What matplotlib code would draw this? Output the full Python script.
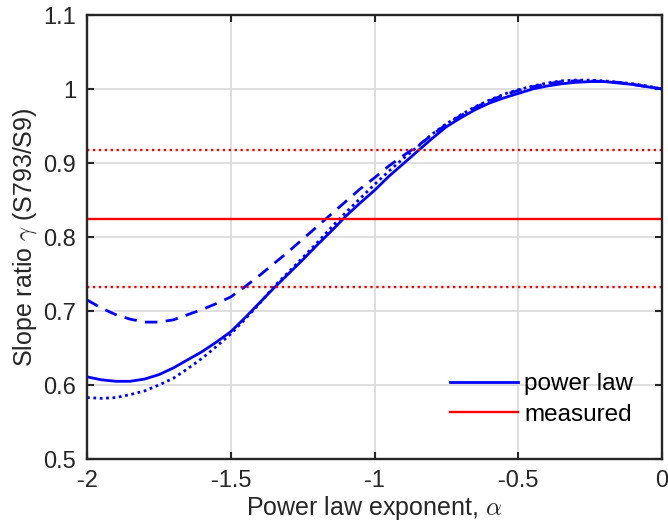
import numpy as np
import matplotlib
matplotlib.use('Agg')
import matplotlib.pyplot as plt
from matplotlib.ticker import FuncFormatter

plt.rcParams['font.family'] = ['Liberation Sans', 'DejaVu Sans']
plt.rcParams['mathtext.fontset'] = 'cm'

# power law exponent
alpha = [-2.00, -1.95, -1.90, -1.85, -1.80, -1.75, -1.70, -1.65, -1.60, -1.55,
         -1.50, -1.45, -1.40, -1.35, -1.30, -1.25, -1.20, -1.15, -1.10, -1.05,
         -1.00, -0.95, -0.90, -0.85, -0.80, -0.75, -0.70, -0.65, -0.60, -0.55,
         -0.50, -0.45, -0.40, -0.35, -0.30, -0.25, -0.20, -0.15, -0.10, -0.05, 0.00]
# slope ratio curves
gamma_solid = [0.611, 0.607, 0.605, 0.605, 0.608, 0.614, 0.623, 0.634, 0.645, 0.658,
               0.672, 0.691, 0.711, 0.731, 0.750, 0.769, 0.789, 0.808, 0.828, 0.846,
               0.863, 0.882, 0.899, 0.916, 0.933, 0.949, 0.961, 0.972, 0.981, 0.988,
               0.994, 1.000, 1.004, 1.007, 1.009, 1.010, 1.010, 1.008, 1.006, 1.003, 1.000]
gamma_dashed = [0.715, 0.704, 0.695, 0.689, 0.685, 0.685, 0.688, 0.695, 0.702, 0.710,
                0.719, 0.733, 0.748, 0.764, 0.780, 0.797, 0.814, 0.831, 0.848, 0.865,
                0.880, 0.896, 0.910, 0.923, 0.938, 0.952, 0.964, 0.975, 0.984, 0.992,
                0.998, 1.003, 1.007, 1.010, 1.011, 1.011, 1.010, 1.009, 1.006, 1.003, 1.000]
gamma_dotted = [0.583, 0.582, 0.583, 0.587, 0.592, 0.600, 0.609, 0.622, 0.636, 0.652,
                0.669, 0.689, 0.710, 0.733, 0.752, 0.772, 0.792, 0.813, 0.833, 0.852,
                0.871, 0.889, 0.906, 0.922, 0.939, 0.953, 0.965, 0.976, 0.985, 0.993,
                0.999, 1.004, 1.008, 1.011, 1.012, 1.012, 1.011, 1.009, 1.007, 1.004, 1.000]
measured = 0.825
measured_lo, measured_hi = 0.733, 0.917

fig = plt.figure(figsize=(6.68, 5.30), dpi=100)
ax = fig.add_axes([87/668, 1 - 459/530, 575/668, 444/530])

blue = '#0000ff'
red = '#ff0000'
ax.plot(alpha, gamma_solid, c=blue, lw=2.0, label='power law')
ax.plot(alpha, gamma_dashed, c=blue, lw=2.0, ls=(0, (4.5, 3)))
ax.plot(alpha, gamma_dotted, c=blue, lw=2.0, ls=(0, (1, 1.3)))
ax.axhline(measured, c=red, lw=1.7, label='measured')
ax.axhline(measured_lo, c=red, lw=1.7, ls=(0, (1, 1.5)))
ax.axhline(measured_hi, c=red, lw=1.7, ls=(0, (1, 1.5)))

ax.set_xlim(-2, 0)
ax.set_ylim(0.5, 1.1)
ax.set_xticks([-2, -1.5, -1, -0.5, 0])
ax.set_yticks([0.5, 0.6, 0.7, 0.8, 0.9, 1.0, 1.1])
fmt = FuncFormatter(lambda v, p: f'{v:g}')
ax.xaxis.set_major_formatter(fmt)
ax.yaxis.set_major_formatter(fmt)
ax.grid(True, color='#dcdcdc', lw=1.3)
ax.set_axisbelow(True)
ax.tick_params(direction='in', length=5, width=1.5, top=True, right=True,
               labelsize=17, colors='#262626')
ax.tick_params(axis='x', pad=8)
ax.tick_params(axis='y', pad=8)
for s in ax.spines.values():
    s.set_color('#262626')
    s.set_linewidth(1.7)

ax.set_xlabel(r'Power law exponent, $\alpha$', fontsize=18, color='#262626', labelpad=1)
ax.set_ylabel(r'Slope ratio $\gamma$ (S793/S9)', fontsize=18, color='#262626', labelpad=3)
ax.legend(loc='lower right', frameon=False, fontsize=17.5, handlelength=2.8,
          handletextpad=0.25, borderpad=0, borderaxespad=0, labelspacing=0.35,
          bbox_to_anchor=(0.95, 0.075))

plt.savefig('out.png', dpi=100)
